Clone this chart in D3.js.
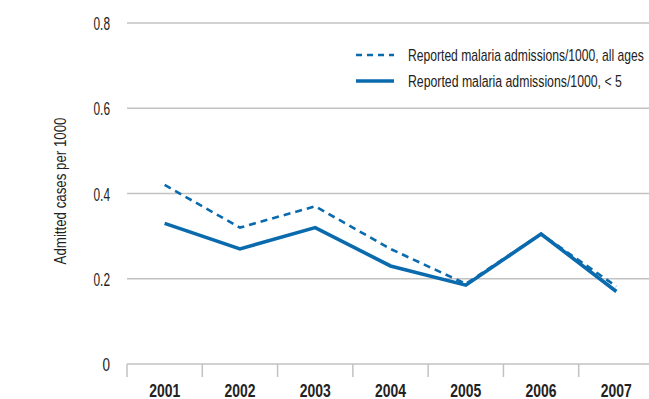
<!DOCTYPE html>
<html><head><meta charset="utf-8">
<script src="https://cdn.jsdelivr.net/npm/d3@7"></script>
<style>body{margin:0;background:#fff}svg{display:block}text{font-family:"Liberation Sans",Arial,sans-serif}</style>
</head><body><svg id="c" width="649" height="399"></svg>
<script>
const years = ["2001","2002","2003","2004","2005","2006","2007"];
const allAges = [0.42, 0.32, 0.37, 0.27, 0.188, 0.305, 0.182];
const under5 = [0.33, 0.27, 0.32, 0.23, 0.185, 0.305, 0.17];
const yTicks = [0, 0.2, 0.4, 0.6, 0.8];
const yTickLabels = ["0", "0.2", "0.4", "0.6", "0.8"];
const seriesNames = ["Reported malaria admissions/1000, all ages", "Reported malaria admissions/1000, < 5"];

const svg = d3.select("#c");
const color = "#0a6aae";
const x = d3.scaleBand().domain(years).range([127, 654]);
const y = d3.scaleLinear().domain([0, 0.8]).range([364, 23]);

// condensed text fitted to a target width
function ctext(parent, str, px, py, anchor, size, weight, targetW, rotate) {
  const g = parent.append("g");
  const t = g.append("text").attr("text-anchor", anchor).attr("font-size", size)
    .attr("font-weight", weight || "normal").attr("fill", "#222").text(str);
  const w = t.node().getComputedTextLength();
  const sx = w > 0 ? targetW / w : 1;
  g.attr("transform", `translate(${px},${py})` + (rotate ? ` rotate(${rotate})` : "") + ` scale(${sx},1)`);
  return g;
}

// gridlines
svg.append("g").selectAll("line").data(yTicks).join("line")
  .attr("x1", 127).attr("x2", 649).attr("y1", d => y(d)).attr("y2", d => y(d))
  .attr("stroke", "#c2c2c2").attr("stroke-width", 1.5);
// y tick labels
const yl = svg.append("g");
yTicks.forEach((d, i) => ctext(yl, yTickLabels[i], 110, y(d) + 7, "end", 18.5, "normal", yTickLabels[i].length === 1 ? 7.5 : 16.5));
// x ticks (band boundaries)
const bounds = years.map(d => x(d));
svg.append("g").selectAll("line").data(bounds).join("line")
  .attr("x1", d => d).attr("x2", d => d).attr("y1", 364).attr("y2", 377)
  .attr("stroke", "#c2c2c2").attr("stroke-width", 1.5);
const xl = svg.append("g");
years.forEach(d => ctext(xl, d, x(d) + x.bandwidth() / 2, 396.5, "middle", 17.5, "bold", 31));
// y axis title
ctext(svg, "Admitted cases per 1000", 65.5, 191, "middle", 16, "normal", 147, -90);

const line = d3.line().x((d, i) => x(years[i]) + x.bandwidth() / 2).y(d => y(d));
svg.append("path").datum(allAges).attr("d", line).attr("fill", "none")
  .attr("stroke", color).attr("stroke-width", 2.6).attr("stroke-dasharray", "7,5");
svg.append("path").datum(under5).attr("d", line).attr("fill", "none")
  .attr("stroke", color).attr("stroke-width", 3.6).attr("stroke-linejoin", "miter");

// legend
const lg = svg.append("g");
lg.append("line").attr("x1", 356).attr("x2", 394).attr("y1", 55).attr("y2", 55)
  .attr("stroke", color).attr("stroke-width", 2.6).attr("stroke-dasharray", "6,5");
lg.append("line").attr("x1", 356).attr("x2", 394).attr("y1", 81).attr("y2", 81)
  .attr("stroke", color).attr("stroke-width", 3.6);
seriesNames.forEach((d, i) => ctext(lg, d, 408, 55 + i * 26 + 5.5, "start", 16, "normal", i === 0 ? 236 : 214));
</script></body></html>
